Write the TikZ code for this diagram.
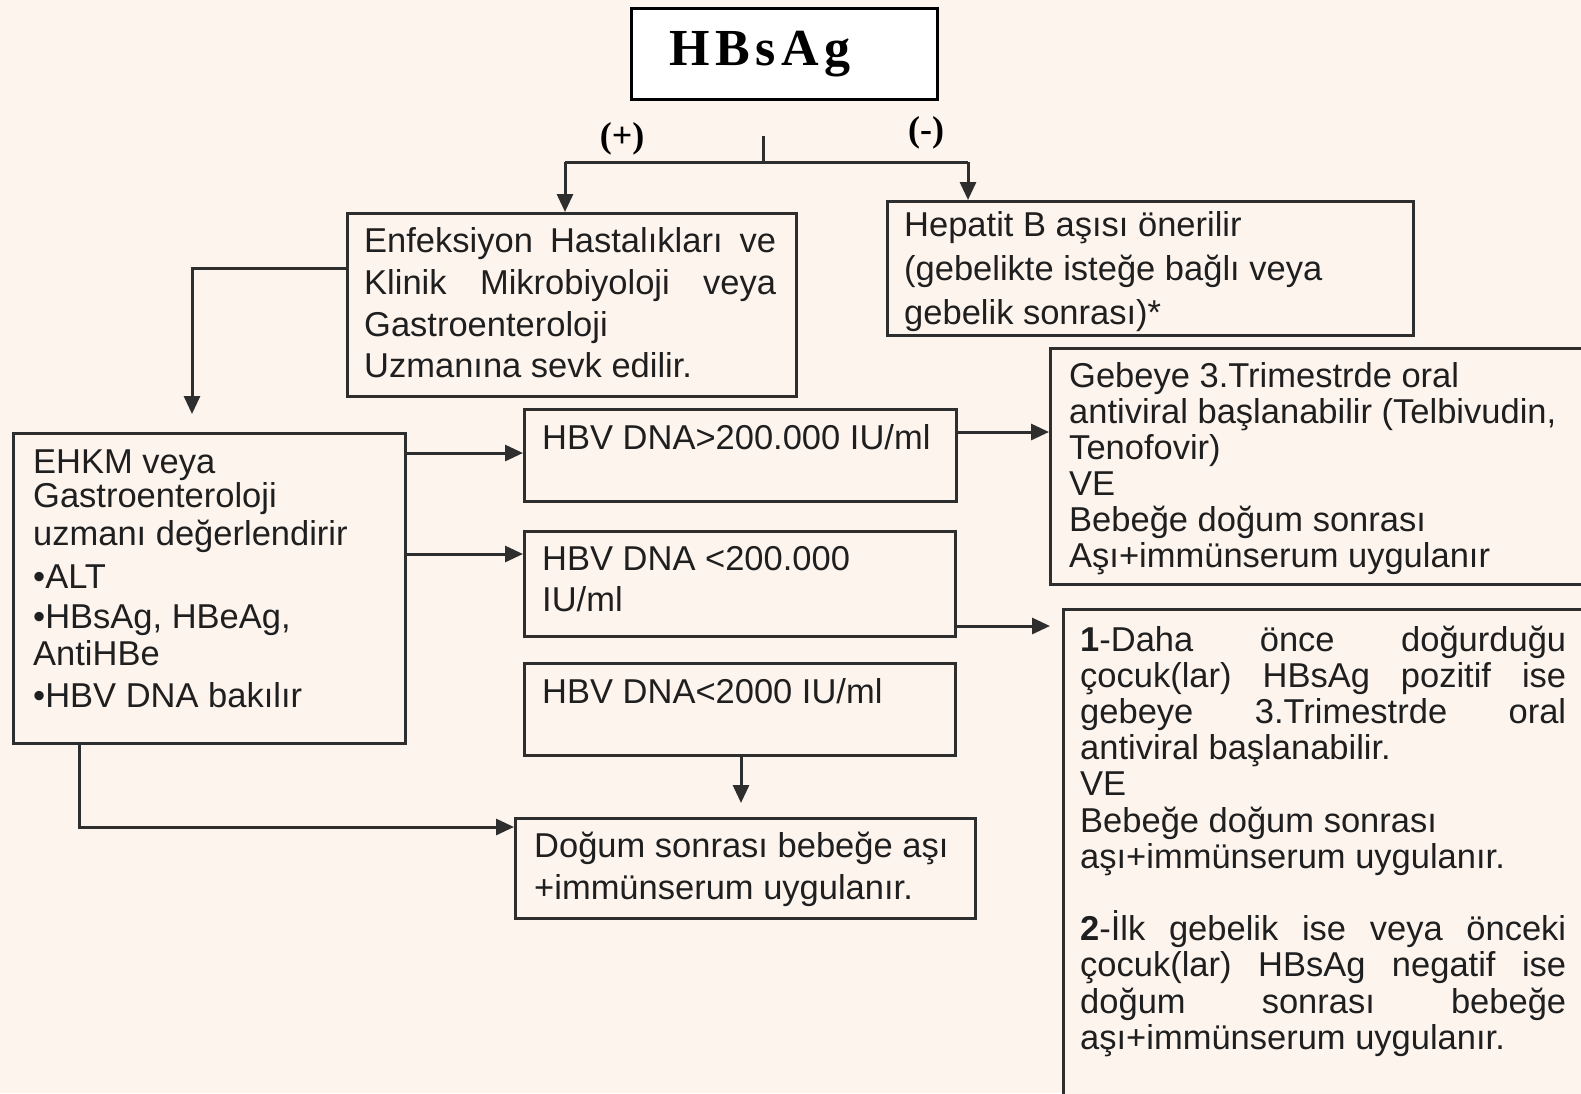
\documentclass[tikz,border=0pt]{standalone}
\usepackage{fontspec}
\setmainfont{Liberation Sans}
\newfontfamily\hbsfont[LetterSpace=11]{Liberation Serif}
\newfontfamily\lblfont{Liberation Serif}
\usetikzlibrary{arrows.meta}
\definecolor{bg}{HTML}{FDF4EE}
\definecolor{ln}{HTML}{2E2E2E}
\newcommand\tline[1]{\hbox{\smash{#1}}}
\newcommand\jtline[2]{\hbox{\smash{\hbox to #1{#2}}}}
\newcommand\txtlines[1]{\vtop{\offinterlineskip #1}}
\begin{document}
\begin{tikzpicture}[x=1pt,y=-1pt,
  box/.style={draw=ln, line width=3pt, fill=bg, anchor=north west, inner sep=0pt, rectangle},
  txt/.style={anchor=base west, inner sep=0pt, font=\fontsize{34.5}{36}\selectfont, text=black!88},
  conn/.style={draw=ln, line width=3pt},
  arr/.style={conn, -{Triangle[length=18pt,width=16pt]}},
  lbl/.style={inner sep=0pt, font=\lblfont\bfseries\fontsize{36}{36}\selectfont}
]
\fill[bg] (0,0) rectangle (1581,1093);
\useasboundingbox (0,0) rectangle (1581,1093);

% boxes
\node[box, fill=white, draw=black, minimum width=306pt, minimum height=91pt] (hbs) at (630,7) {};
\node[box, minimum width=449pt, minimum height=183pt] (enf) at (346,212) {};
\node[box, minimum width=526pt, minimum height=134pt] (hep) at (886,200) {};
\node[box, minimum width=392pt, minimum height=310pt] (ehkm) at (12,432) {};
\node[box, minimum width=432pt, minimum height=92pt] (hbv1) at (523,408) {};
\node[box, minimum width=431pt, minimum height=105pt] (hbv2) at (523,530) {};
\node[box, minimum width=431pt, minimum height=92pt] (hbv3) at (523,662) {};
\node[box, minimum width=460pt, minimum height=100pt] (dog) at (514,817) {};
\node[box, minimum width=560pt, minimum height=236pt] (geb) at (1049,347) {};
\node[box, minimum width=540pt, minimum height=520pt] (daha) at (1062,608) {};

% texts
\node[anchor=base west, inner sep=0pt, font=\hbsfont\bfseries\fontsize{52}{52}\selectfont] (hbst) at (669,65) {HBsAg};
\node[lbl] (plus) at (622,139) {(+)};
\node[lbl] (minus) at (926,133) {(-)};

\node[txt] (enft) at (364,252) {\txtlines{%
  \jtline{412pt}{Enfeksiyon\hfill Hastalıkları\hfill ve}\vskip42pt
  \jtline{412pt}{Klinik\hfill Mikrobiyoloji\hfill veya}\vskip42pt
  \tline{Gastroenteroloji}\vskip41pt
  \tline{Uzmanına sevk edilir.}}};

\node[txt] (hept) at (904,236) {\txtlines{%
  \tline{Hepatit B aşısı önerilir}\vskip44pt
  \tline{(gebelikte isteğe bağlı veya}\vskip44pt
  \tline{gebelik sonrası)*}}};

\node[txt] (ehkmt) at (33,473) {\txtlines{%
  \tline{EHKM veya}\vskip34pt
  \tline{Gastroenteroloji}\vskip38pt
  \tline{uzmanı değerlendirir}\vskip43pt
  \tline{•ALT}\vskip40pt
  \tline{•HBsAg, HBeAg,}\vskip37pt
  \tline{AntiHBe}\vskip42pt
  \tline{•HBV DNA bakılır}}};

\node[txt] (hbv1t) at (542,449) {HBV DNA>200.000 IU/ml};
\node[txt] (hbv2t) at (542,570) {\txtlines{%
  \tline{HBV DNA <200.000}\vskip41pt
  \tline{IU/ml}}};
\node[txt] (hbv3t) at (542,703) {HBV DNA<2000 IU/ml};
\node[txt] (dogt) at (534,857) {\txtlines{%
  \tline{Doğum sonrası bebeğe aşı}\vskip42pt
  \tline{+immünserum uygulanır.}}};

\node[txt] (gebt) at (1069,387) {\txtlines{%
  \tline{Gebeye 3.Trimestrde oral}\vskip36pt
  \tline{antiviral başlanabilir (Telbivudin,}\vskip36pt
  \tline{Tenofovir)}\vskip36pt
  \tline{VE}\vskip36pt
  \tline{Bebeğe doğum sonrası}\vskip36pt
  \tline{Aşı+immünserum uygulanır}}};

\node[txt] (dahat) at (1080,651) {\txtlines{%
  \jtline{486pt}{\textbf{1}-Daha\hfill önce\hfill doğurduğu}\vskip36.2pt
  \jtline{486pt}{çocuk(lar)\hfill HBsAg\hfill pozitif\hfill ise}\vskip36.2pt
  \jtline{486pt}{gebeye\hfill 3.Trimestrde\hfill oral}\vskip36.2pt
  \tline{antiviral başlanabilir.}\vskip36.2pt
  \tline{VE}\vskip36.2pt
  \tline{Bebeğe doğum sonrası}\vskip36.2pt
  \tline{aşı+immünserum uygulanır.}\vskip72.4pt
  \jtline{486pt}{\textbf{2}-İlk\hfill gebelik\hfill ise\hfill veya\hfill önceki}\vskip36.2pt
  \jtline{486pt}{çocuk(lar)\hfill HBsAg\hfill negatif\hfill ise}\vskip36.2pt
  \jtline{486pt}{doğum\hfill sonrası\hfill bebeğe}\vskip36.2pt
  \tline{aşı+immünserum uygulanır.}}};

% helper coordinates
\coordinate (tk) at (763,136);
\coordinate (jn) at (763,162);
\coordinate (jl) at (565,162);
\coordinate (jr) at (968,162);
\coordinate (y268) at (0,268);
\coordinate (x192) at (192,0);
\coordinate (y453) at (0,453);
\coordinate (y554) at (0,554);
\coordinate (y432) at (0,432);
\coordinate (y626) at (0,626);
\coordinate (x741) at (741,0);
\coordinate (x79) at (79,0);
\coordinate (y827) at (0,827);

% connectors
\draw[conn] (tk) -- (jn);
\draw[conn] (jl) -- (jr);
\draw[arr] (jl) -- (enf.north -| jl);
\draw[arr] (jr) -- (hep.north -| jr);
\draw[arr, shorten >=18pt] (enf.west |- y268) -| (ehkm.north -| x192);
\draw[arr] (ehkm.east |- y453) -- (hbv1.west |- y453);
\draw[arr] (ehkm.east |- y554) -- (hbv2.west |- y554);
\draw[arr] (hbv1.east |- y432) -- (geb.west |- y432);
\draw[arr, shorten >=12pt] (hbv2.east |- y626) -- (daha.west |- y626);
\draw[arr, shorten >=14pt] (hbv3.south -| x741) -- (dog.north -| x741);
\draw[arr] (ehkm.south -| x79) |- (dog.west |- y827);
\end{tikzpicture}
\end{document}
